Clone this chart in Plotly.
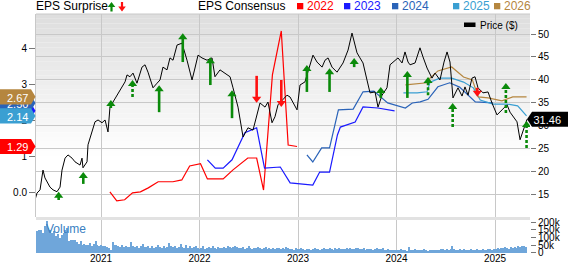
import plotly.graph_objects as go

# ---------------- data ----------------
price_year = [
    2020.330, 2020.350, 2020.381, 2020.411, 2020.431, 2020.482, 2020.513, 2020.553, 2020.584, 2020.604,
    2020.635, 2020.665, 2020.706, 2020.736, 2020.787, 2020.807, 2020.817, 2020.858, 2020.868, 2020.909,
    2020.939, 2020.970, 2021.010, 2021.041, 2021.071, 2021.091, 2021.122, 2021.162, 2021.193, 2021.244,
    2021.264, 2021.294, 2021.325, 2021.365, 2021.416, 2021.447, 2021.477, 2021.528, 2021.569, 2021.599,
    2021.629, 2021.670, 2021.700, 2021.731, 2021.772, 2021.822, 2021.873, 2021.924, 2021.954, 2021.985,
    2022.025, 2022.076, 2022.127, 2022.157, 2022.208, 2022.259, 2022.310, 2022.340, 2022.391, 2022.442,
    2022.492, 2022.543, 2022.584, 2022.614, 2022.665, 2022.695, 2022.736, 2022.766, 2022.797, 2022.848,
    2022.888, 2022.919, 2022.949, 2022.990, 2023.020, 2023.071, 2023.091, 2023.152, 2023.193, 2023.244,
    2023.274, 2023.305, 2023.345, 2023.396, 2023.457, 2023.508, 2023.548, 2023.599, 2023.629, 2023.660,
    2023.700, 2023.731, 2023.782, 2023.812, 2023.853, 2023.903, 2023.934, 2023.985, 2024.015, 2024.056,
    2024.086, 2024.117, 2024.137, 2024.188, 2024.238, 2024.269, 2024.310, 2024.360, 2024.391, 2024.441,
    2024.482, 2024.513, 2024.543, 2024.573, 2024.624, 2024.665, 2024.695, 2024.726, 2024.766, 2024.797,
    2024.827, 2024.878, 2024.929, 2024.969, 2025.020, 2025.071, 2025.122, 2025.152, 2025.183, 2025.223,
    2025.254, 2025.284, 2025.325]
price_usd = [
    13.9, 15.4, 16.1, 20.4, 18.7, 16.7, 16.1, 15.7, 16.7, 20.4,
    23.0, 23.7, 23.0, 22.2, 21.5, 23.0, 20.9, 22.2, 25.9, 28.5,
    30.9, 31.3, 30.7, 31.3, 28.7, 34.1, 35.2, 36.7, 37.8, 39.6,
    41.1, 40.7, 41.5, 39.3, 42.8, 43.3, 41.7, 38.3, 39.3, 40.0,
    42.8, 42.2, 44.8, 44.3, 47.6, 48.0, 44.3, 40.0, 42.6, 45.4,
    44.8, 44.3, 44.8, 40.7, 42.2, 41.5, 40.7, 38.3, 34.1, 27.6,
    29.6, 29.1, 32.8, 35.0, 34.1, 35.2, 30.7, 32.0, 34.6, 35.7,
    36.7, 36.3, 35.0, 33.5, 38.9, 39.6, 41.1, 45.4, 43.9, 42.8,
    44.3, 44.8, 42.8, 41.7, 43.7, 46.5, 50.2, 45.9, 44.8, 43.7,
    40.0, 37.2, 37.4, 34.1, 36.7, 38.3, 43.3, 44.3, 44.8, 43.7,
    46.1, 43.9, 43.3, 43.7, 47.0, 45.0, 42.6, 40.4, 41.5, 40.0,
    43.9, 46.1, 43.9, 36.1, 38.3, 36.5, 38.5, 36.7, 40.4, 40.7,
    38.3, 37.2, 37.4, 35.0, 32.4, 33.5, 34.6, 33.0, 32.0, 30.9,
    27.0, 29.1, 31.46]
last_price = 31.46

eps2022_year = [2021.09, 2021.16, 2021.24, 2021.32, 2021.40, 2021.48, 2021.58, 2021.73, 2021.82, 2021.90, 2022.01,
                2022.08, 2022.24, 2022.34, 2022.49, 2022.58, 2022.65, 2022.74, 2022.83, 2022.90, 2022.99]
eps2022 = [0.03, -0.22, -0.19, 0.0, 0.03, 0.14, 0.31, 0.31, 0.36, 0.75, 0.81,
           0.39, 0.39, 0.64, 0.97, 0.97, 0.08, 3.28, 4.50, 1.33, 1.29]

eps2023_year = [2022.08, 2022.16, 2022.24, 2022.33, 2022.46, 2022.58, 2022.66, 2022.82, 2022.92, 2023.15,
                2023.22, 2023.32, 2023.40, 2023.43, 2023.58, 2023.66, 2023.81, 2023.98]
eps2023 = [0.92, 0.69, 0.69, 0.92, 1.67, 1.81, 0.69, 0.72, 0.28, 0.22,
           0.58, 0.58, 1.61, 1.83, 1.97, 2.39, 2.36, 2.28]

eps2024_year = [2023.09, 2023.15, 2023.24, 2023.32, 2023.41, 2023.56, 2023.66, 2023.77, 2023.91, 2023.98,
                2024.09, 2024.16, 2024.24, 2024.32, 2024.42, 2024.54, 2024.64, 2024.80, 2024.98]
eps2024 = [1.06, 0.86, 1.25, 1.25, 2.31, 2.33, 2.81, 2.83, 2.50, 2.44,
           2.36, 2.50, 2.53, 2.60, 2.95, 3.06, 2.94, 2.53, 2.50]

eps2025_year = [2024.07, 2024.21, 2024.31, 2024.34, 2024.44, 2024.56, 2024.68, 2024.78, 2024.85, 2024.98,
                2025.12, 2025.23, 2025.32]
eps2025 = [2.78, 2.78, 2.81, 3.08, 3.19, 3.19, 3.08, 2.92, 2.58, 2.47, 2.47, 2.42, 2.14]

eps2026_year = [2024.09, 2024.31, 2024.34, 2024.42, 2024.56, 2024.68, 2024.77, 2024.83, 2024.93, 2025.07,
                2025.18, 2025.32]
eps2026 = [3.00, 3.06, 3.19, 3.39, 3.50, 3.22, 3.14, 2.67, 2.64, 2.56, 2.67, 2.67]

# earnings surprises: date, price at arrow tail, price at arrow head, kind
surprise_year = [2020.57, 2020.82, 2021.10, 2021.32, 2021.59, 2021.83, 2022.11, 2022.33, 2022.58, 2022.83,
                 2023.09, 2023.32, 2023.57, 2023.84, 2024.11, 2024.32, 2024.57, 2024.82, 2025.11, 2025.32]
surprise_tail = [13.9, 17.4, 33.9, 36.3, 33.0, 43.9, 38.9, 31.7, 40.9, 40.0,
                 37.4, 37.4, 42.8, 36.1, 36.1, 36.7, 29.8, 38.3, 32.8, 25.2]
surprise_head = [14.8, 19.1, 34.8, 39.1, 38.0, 49.3, 44.1, 36.9, 35.9, 35.0,
                 42.4, 41.7, 43.9, 37.6, 41.1, 39.8, 34.1, 37.2, 38.5, 30.2]
surprise_kind = ['beat', 'beat', 'beat', 'beat_d', 'beat', 'beat', 'beat', 'beat', 'miss', 'miss',
                 'beat', 'beat', 'beat', 'beat', 'beat', 'beat_d', 'beat_d', 'miss', 'beat_d', 'beat_d']

volume_start_year = 2020.333
volume_k = [
    155, 140, 146, 150, 130, 172, 205, 160, 150,
    130, 140, 107, 125, 97, 118, 130, 150, 160, 75, 86, 82, 86,
    69, 60, 75, 54, 58, 54, 49, 65, 47, 58, 75, 54, 43,
    49, 43, 47, 37, 32, 21, 73, 54, 49, 45, 40, 52, 38,
    44, 36, 41, 70, 47, 39, 45, 33, 42, 58, 40, 36, 48,
    35, 44, 30, 38, 52, 41, 34, 47, 29, 40, 66, 43, 37,
    45, 32, 41, 60, 38, 35, 49, 33, 42, 30, 39, 44, 31,
    28, 35, 42, 26, 33, 38, 29, 45, 31, 27, 36, 30, 34,
    40, 32, 44, 38, 29, 36, 47, 41, 33, 30, 38, 28, 35,
    43, 31, 26, 34, 29, 37, 32, 25, 30, 41, 28, 33, 27,
    31, 26, 35, 29, 24, 32, 27, 38, 30, 25, 28, 22, 33,
    27, 23, 30, 25, 21, 28, 24, 20, 26, 31, 23, 27, 22,
    25, 30, 24, 28, 33, 26, 22, 29, 25, 31, 27, 23, 28,
    30, 26, 32, 28, 24, 29, 33, 27, 25, 30, 22, 26, 24,
    28, 21, 25, 30, 23, 27, 35, 22, 19, 24, 20, 18, 22,
    17, 20, 18, 23, 19, 21, 16, 40, 18, 20, 24, 19, 17,
    21, 18, 23, 20, 16, 19, 22, 18, 20, 17, 21, 24, 25,
    22, 27, 20, 24, 43, 28, 21, 18, 26, 20, 23, 17, 22,
    19, 24, 18, 21, 28, 20, 17, 25, 22, 19, 27, 23, 20,
    28, 24, 30, 26, 33, 29, 36, 31, 27, 38, 34, 40, 35, 45, 38, 42, 47, 40]

year_ticks = [2021, 2022, 2023, 2024, 2025]
eps_ticks = [0, 1, 2, 3, 4]
eps_tick_text = ['0.0', '1', '2', '3', '4']
price_ticks = [15, 20, 25, 30, 35, 40, 45, 50]
vol_ticks = [0, 50000, 100000, 150000, 200000]
vol_tick_text = ['0', '50k', '100k', '150k', '200k']

series_names = ['2022', '2023', '2024', '2025', '2026']
series_colors = ['#ff0000', '#1a1aff', '#2a63b8', '#3a9fd2', '#b5863f']
tag_values = [1.29, 2.28, 2.50, 2.14, 2.67]   # last consensus per fiscal year
tag_order = [1, 2, 0, 3, 4]                     # drawing order (last on top)

# ---------------- layout geometry ----------------
W, H = 568, 264
L, R, T, B = 36, 38, 14, 11
FONT = 'Liberation Sans, Arial, sans-serif'
GREEN = '#0a8a0a'
RED = '#ff1010'


def px_x(px):
    return (px - L) / (W - L - R)


def px_y(py):
    return (H - B - py) / (H - T - B)


fig = go.Figure()

# EPS consensus lines (left axis)
eps_years = [eps2022_year, eps2023_year, eps2024_year, eps2025_year, eps2026_year]
eps_vals = [eps2022, eps2023, eps2024, eps2025, eps2026]
for yrs, vals, col in zip(eps_years, eps_vals, series_colors):
    fig.add_trace(go.Scatter(x=yrs, y=vals, mode='lines', line=dict(color=col, width=1.2),
                             xaxis='x', yaxis='y', hoverinfo='skip'))

# Price (right axis)
fig.add_trace(go.Scatter(x=price_year, y=price_usd, mode='lines', line=dict(color='#000', width=1),
                         xaxis='x', yaxis='y2', hoverinfo='skip'))

# Surprise arrows
stems = {'beat': ([], []), 'beat_d': ([], []), 'miss': ([], [])}
for yr, tl, hd, kd in zip(surprise_year, surprise_tail, surprise_head, surprise_kind):
    xs, ys = stems[kd]
    xs += [yr, yr, None]
    ys += [tl, hd, None]
for kd, (xs, ys) in stems.items():
    col = RED if kd == 'miss' else GREEN
    dash = '3px,2px' if kd == 'beat_d' else 'solid'
    fig.add_trace(go.Scatter(x=xs, y=ys, mode='lines', line=dict(color=col, width=2.6, dash=dash),
                             xaxis='x', yaxis='y2', hoverinfo='skip'))
up_x = [y for y, k in zip(surprise_year, surprise_kind) if k != 'miss']
up_y = [h for h, k in zip(surprise_head, surprise_kind) if k != 'miss']
dn_x = [y for y, k in zip(surprise_year, surprise_kind) if k == 'miss']
dn_y = [h for h, k in zip(surprise_head, surprise_kind) if k == 'miss']
fig.add_trace(go.Scatter(x=up_x, y=up_y, mode='markers',
                         marker=dict(symbol='triangle-up', size=8, color=GREEN, line=dict(width=0)),
                         xaxis='x', yaxis='y2', hoverinfo='skip'))
fig.add_trace(go.Scatter(x=dn_x, y=dn_y, mode='markers',
                         marker=dict(symbol='triangle-down', size=8, color=RED, line=dict(width=0)),
                         xaxis='x', yaxis='y2', hoverinfo='skip'))

# Volume
vol_x = [volume_start_year + i * 7 / 365.25 for i in range(len(volume_k))]
vol_y = [v * 1000 for v in volume_k]
fig.add_trace(go.Bar(x=vol_x, y=vol_y, width=0.0125, marker=dict(color='#6fa6da', line=dict(width=0)),
                     xaxis='x', yaxis='y3', hoverinfo='skip'))

shapes = []
# background gradient on main panel
n_bands = 30
for i in range(n_bands):
    f0 = 1 - i * 0.7 / n_bands
    f1 = 1 - (i + 1) * 0.7 / n_bands
    c = int(222 + (255 - 222) * (i + 0.5) / n_bands)
    shapes.append(dict(type='rect', xref='x domain', yref='y domain', x0=0, x1=1, y0=f1, y1=f0,
                       fillcolor=f'rgb({c},{c},{c})', line=dict(width=0), layer='below'))
# separator band between panels
shapes.append(dict(type='rect', xref='paper', yref='paper', x0=0, x1=1, y0=0.138, y1=0.151,
                   fillcolor='#e2e2e2', line=dict(width=0), layer='below'))
# top border
shapes.append(dict(type='line', xref='paper', yref='paper', x0=0, x1=1, y0=1, y1=1,
                   line=dict(color='#c8c8c8', width=1)))

annotations = []
# left EPS tags (shape labels so that covered tags hide their text)
tag_half = 0.21
for idx in tag_order:
    v = tag_values[idx]
    col = series_colors[idx]
    x0, x1, xt = px_x(0), px_x(31), px_x(35.5)
    path = (f'M {x0},{v - tag_half} L {x1},{v - tag_half} L {xt},{v} '
            f'L {x1},{v + tag_half} L {x0},{v + tag_half} Z')
    shapes.append(dict(type='path', xref='paper', yref='y', path=path, fillcolor=col,
                       line=dict(width=0), layer='above',
                       label=dict(text=f'{v:.2f}', textposition='middle left', padding=4,
                                  font=dict(family=FONT, size=11, color='white'))))

# right price tag
ph = 1.65
x_tip, x_b0, x_b1 = px_x(527), px_x(532), px_x(569)
shapes.append(dict(type='path', xref='paper', yref='y2',
                   path=(f'M {x_tip},{last_price} L {x_b0},{last_price + ph} L {x_b1},{last_price + ph} '
                         f'L {x_b1},{last_price - ph} L {x_b0},{last_price - ph} Z'),
                   fillcolor='#000', line=dict(width=0), layer='above',
                   label=dict(text=f'{last_price:.2f}', textposition='middle right', padding=5,
                              font=dict(family=FONT, size=11, color='white'))))

# header: EPS Surprise with icons
ty = px_y(6.5)
annotations.append(dict(xref='paper', yref='paper', x=px_x(34.5), y=ty, text='EPS Surprise',
                        showarrow=False, xanchor='left', yanchor='middle',
                        font=dict(family=FONT, size=12, color='#000')))


def up_icon(cx, top, col):
    p = (f'M {px_x(cx - 3.8)},{px_y(top + 5)} L {px_x(cx)},{px_y(top)} L {px_x(cx + 3.8)},{px_y(top + 5)} '
         f'L {px_x(cx + 1.1)},{px_y(top + 5)} L {px_x(cx + 1.1)},{px_y(top + 9.5)} '
         f'L {px_x(cx - 1.1)},{px_y(top + 9.5)} L {px_x(cx - 1.1)},{px_y(top + 5)} Z')
    return dict(type='path', xref='paper', yref='paper', path=p, fillcolor=col, line=dict(width=0))


def down_icon(cx, top, col):
    b = top + 9.5
    p = (f'M {px_x(cx - 3.8)},{px_y(b - 5)} L {px_x(cx)},{px_y(b)} L {px_x(cx + 3.8)},{px_y(b - 5)} '
         f'L {px_x(cx + 1.1)},{px_y(b - 5)} L {px_x(cx + 1.1)},{px_y(top)} '
         f'L {px_x(cx - 1.1)},{px_y(top)} L {px_x(cx - 1.1)},{px_y(b - 5)} Z')
    return dict(type='path', xref='paper', yref='paper', path=p, fillcolor=col, line=dict(width=0))


shapes.append(up_icon(111.5, 2, GREEN))
shapes.append(down_icon(122, 2, RED))

annotations.append(dict(xref='paper', yref='paper', x=px_x(196.5), y=ty, text='EPS Consensus',
                        showarrow=False, xanchor='left', yanchor='middle',
                        font=dict(family=FONT, size=12, color='#000')))
legend_sq_x = [297, 344, 392, 453, 494]
for sx, name, col in zip(legend_sq_x, series_names, series_colors):
    shapes.append(dict(type='rect', xref='paper', yref='paper', x0=px_x(sx), x1=px_x(sx + 6.3),
                       y0=px_y(9.3), y1=px_y(3), fillcolor=col, line=dict(width=0)))
    annotations.append(dict(xref='paper', yref='paper', x=px_x(sx + 8.5), y=ty, text=name,
                            showarrow=False, xanchor='left', yanchor='middle',
                            font=dict(family=FONT, size=12, color=col)))

# Price legend inside plot
shapes.append(dict(type='rect', xref='paper', yref='paper', x0=px_x(464), x1=px_x(475.5),
                   y0=px_y(27), y1=px_y(22.5), fillcolor='#000', line=dict(width=0)))
annotations.append(dict(xref='paper', yref='paper', x=px_x(478.5), y=px_y(25.5), text='Price ($)',
                        showarrow=False, xanchor='left', yanchor='middle',
                        font=dict(family=FONT, size=10, color='#000')))

# Volume label
annotations.append(dict(xref='paper', yref='paper', x=px_x(44.5), y=px_y(229.5), text='Volume',
                        showarrow=False, xanchor='left', yanchor='middle',
                        font=dict(family=FONT, size=12, color='#3a7fc2')))

for a in annotations:
    a.setdefault('borderpad', 0)

fig.update_layout(
    width=W, height=H,
    margin=dict(l=L, r=R, t=T, b=B, pad=0, autoexpand=False),
    paper_bgcolor='white', plot_bgcolor='white',
    showlegend=False, bargap=0,
    font=dict(family=FONT, size=10, color='#000'),
    shapes=shapes, annotations=annotations,
    xaxis=dict(range=[2020.340, 2025.355], tickvals=year_ticks, ticktext=[str(t) for t in year_ticks],
               showgrid=True, gridcolor='#c8c8c8', gridwidth=1, zeroline=False, showline=False,
               ticks='', anchor='y3', tickfont=dict(size=10, color='#000'), automargin=False,
               ticklabelstandoff=-2),
    yaxis=dict(domain=[0.151, 1], range=[-0.667, 4.972], tickvals=eps_ticks, ticktext=eps_tick_text,
               ticks='outside', ticklen=6, tickcolor='#777', showgrid=False, zeroline=False,
               showline=True, linecolor='#c8c8c8', anchor='x', tickfont=dict(size=10, color='#000'),
               automargin=False),
    yaxis2=dict(overlaying='y', side='right', range=[10.22, 54.35], tickvals=price_ticks,
                ticks='outside', ticklen=5, tickcolor='#777', showgrid=True, gridcolor='#c8c8c8',
                zeroline=False, showline=False, anchor='x', tickfont=dict(size=10, color='#000'),
                automargin=False),
    yaxis3=dict(domain=[0, 0.138], range=[0, 213000], side='right', tickvals=vol_ticks,
                ticktext=vol_tick_text, ticks='outside', ticklen=5, tickcolor='#777', showgrid=False,
                zeroline=False, showline=False, anchor='x', tickfont=dict(size=10, color='#000'),
                automargin=False),
)

fig.write_html('out.html')
